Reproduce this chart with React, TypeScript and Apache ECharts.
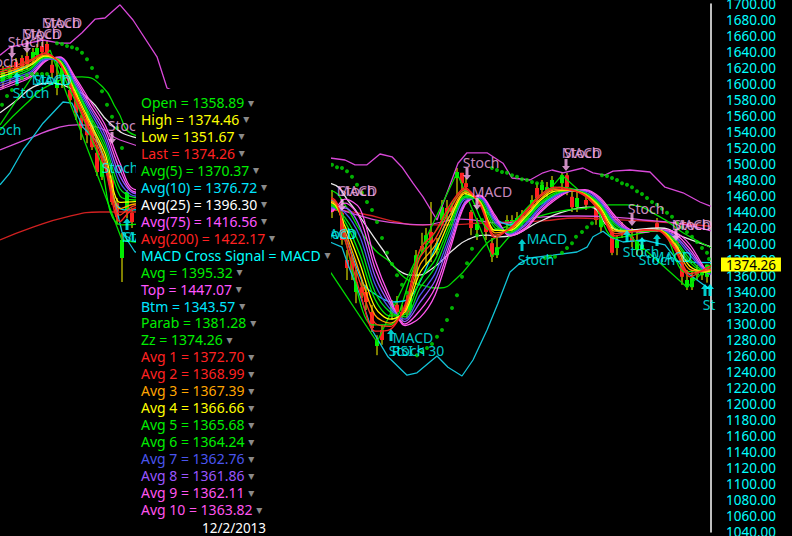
import React, { useEffect, useRef } from "react";
import * as echarts from "echarts";

// ---------- axis ----------
const axisMin = 1040;
const axisMax = 1700;
const lastPrice = 1374.26;
const dateLabel = "12/2/2013";

// ---------- price bars ----------
const barDays = [0.6,2,3.2,4.4,5.4,6.6,7.4,8.4,9.4,10.4,11.4,12.4,14,15.2,16.2,17.4,18.4,19.4,20.4,22.4,23.4,24.4,25.4,26.4,
66.4,68.4,69.4,70.4,71.2,72.4,73.2,74.4,75.4,76.4,78.4,79.4,80.4,81.4,82,83.2,84.4,85.2,86.2,87.4,88.4,89.4,90.4,91.4,92.4,93.2,94.2,95.4,97.2,98.4,99.4,101.4,102.4,103.4,104.4,106.4,107.4,108.4,109.4,110.4,112.4,113.4,114.4,115.4,117.2,119.2,120.2,122.4,123.4,124.4,126.4,127.4,128.4,131.4,134.4,135.4,136.4,137.4,138.4,139.4,140.4,141.4];
const barOpens = [1602.5,1607.5,1627.5,1632.5,1635,1630,1636,1647.5,1650,1624,1595,1609,1592.5,1589,1557.5,1555,1549,1514,1484,1480,1451,1382.5,1442.5,1439,
1455,1439,1380,1377.5,1340,1346,1340,1315,1272.5,1292.5,1315,1324,1315,1327.5,1317.5,1359,1397.5,1402.5,1415,1392.5,1430,1445,1445,1482.5,1489,1476,1440,1417.5,1426,1401,1386,1426,1421,1424,1426,1445,1470,1467.5,1465,1471,1476,1486,1459,1446,1455,1449,1421,1414,1395,1421,1409,1392.5,1392.5,1426,1411,1402.5,1376,1346,1346,1361,1361,1358.89];
const barCloses = [1615,1617.5,1615,1622.5,1625,1640,1645,1640,1639,1614,1605,1620,1580,1564,1545,1536,1521,1490,1502.5,1452.5,1434,1405,1465,1427.5,
1440,1405,1370,1367.5,1352.5,1339,1327.5,1295,1280,1280,1326,1315,1311,1314,1339,1386,1392.5,1411,1401,1401,1446,1440,1440,1490,1476,1471,1420,1426,1415,1384,1396,1430,1430,1432.5,1436,1455,1457.5,1474,1471,1480,1486,1471,1446,1457.5,1449,1430,1439,1389,1405,1414,1402.5,1405,1399,1420,1405,1392.5,1359,1355,1357.5,1367.5,1367.5,1374.26];
const barLows = [1595,1600,1610,1615,1617.5,1624,1630,1632.5,1630,1607.5,1586,1595,1576,1555,1530,1526,1517.5,1485,1480,1449,1424,1352.5,1432.5,1420,
1432.5,1399,1355,1355,1326,1332.5,1317.5,1290,1261,1274,1305,1307.5,1302.5,1307.5,1311,1349,1389,1374,1377.5,1386,1424,1430,1436,1461,1467.5,1461,1411,1405,1405,1377.5,1382.5,1417.5,1415,1417.5,1420,1440,1449,1461,1459,1465,1467.5,1461,1440,1440,1442.5,1424,1415,1386,1386,1407.5,1396,1386,1386,1415,1399,1386,1349,1342.5,1342.5,1355,1355,1351.67];
const barHighs = [1622.5,1624,1632.5,1636,1640,1645,1650,1652.5,1655,1632.5,1627.5,1627.5,1599,1595,1561,1567.5,1555,1524,1511,1486,1457.5,1414,1467.5,1445,
1467.5,1445,1392.5,1386,1367.5,1355,1349,1324,1286,1299,1330,1335,1324,1336,1342.5,1392.5,1414,1420,1452.5,1407.5,1455,1455,1451,1495,1489,1482.5,1442.5,1432.5,1430,1407.5,1409,1436,1436,1440,1442.5,1461,1476,1480,1477.5,1485,1489,1489,1467.5,1467.5,1461,1455,1449,1424,1411,1427.5,1420,1415,1407.5,1432.5,1417.5,1410,1386,1367.5,1367.5,1374,1374,1374.46];

// ---------- ribbon (Avg 1 .. Avg 10) ----------
const ribbonDays = [0,3,6,9,12,15,18,21,24,27,66,69,72,75,78,81,84,87,90,93,96,99,102,105,108,111,114,117,120,123,126,129,132,135,138,141,142.2];
const avg1 = [1618,1623,1630,1639,1625,1583,1539,1495,1428,1445,1458,1405,1340,1291,1293,1324,1393,1415,1449,1470,1449,1408,1420,1440,1461,1471,1468,1460,1440,1410,1415,1418,1416,1393,1359,1369,1372.7];
const avg2 = [1615,1620,1628,1638,1626,1585,1543,1501,1436,1448,1456,1411,1352,1301,1297,1321,1383,1406,1443,1468,1450,1411,1419,1438,1459,1469,1468,1461,1442,1413,1415,1417,1416,1395,1363,1367,1368.99];
const avg3 = [1612,1618,1625,1636,1627,1588,1548,1507,1444,1450,1454,1416,1363,1311,1301,1318,1374,1398,1436,1465,1452,1414,1418,1435,1456,1468,1467,1462,1444,1416,1416,1417,1417,1398,1368,1366,1367.39];
const avg4 = [1609,1615,1623,1635,1628,1591,1552,1513,1452,1453,1452,1422,1375,1321,1306,1315,1364,1389,1430,1463,1453,1417,1417,1433,1454,1466,1467,1462,1446,1418,1416,1417,1417,1400,1372,1365,1366.66];
const avg5 = [1606,1613,1620,1634,1629,1594,1557,1519,1460,1455,1450,1428,1386,1331,1310,1312,1355,1380,1424,1460,1454,1420,1416,1430,1451,1464,1467,1463,1448,1421,1416,1416,1417,1403,1377,1365,1365.68];
const avg6 = [1604,1610,1618,1633,1630,1597,1561,1525,1469,1458,1448,1433,1398,1340,1315,1309,1345,1371,1418,1458,1456,1424,1414,1428,1449,1462,1467,1464,1450,1424,1416,1416,1417,1405,1381,1365,1364.24];
const avg7 = [1601,1608,1615,1631,1631,1600,1566,1531,1477,1460,1446,1439,1409,1350,1319,1306,1336,1363,1411,1456,1457,1427,1413,1425,1446,1460,1467,1465,1452,1427,1416,1416,1417,1408,1386,1366,1362.76];
const avg8 = [1598,1605,1613,1630,1632,1603,1570,1537,1485,1463,1444,1445,1421,1360,1324,1303,1327,1354,1405,1453,1458,1430,1412,1423,1444,1459,1466,1466,1454,1429,1417,1416,1417,1410,1390,1366,1361.86];
const avg9 = [1595,1603,1610,1629,1633,1606,1574,1543,1493,1465,1442,1451,1432,1370,1328,1300,1317,1345,1399,1451,1460,1433,1411,1420,1441,1457,1466,1467,1456,1432,1417,1415,1417,1413,1394,1367,1362.11];
const avg10 = [1593,1600,1608,1628,1634,1609,1579,1549,1501,1468,1440,1456,1444,1380,1333,1298,1308,1336,1393,1449,1461,1436,1410,1418,1439,1455,1466,1468,1458,1435,1418,1415,1418,1415,1399,1369,1363.82];
const ribbons = [avg1,avg2,avg3,avg4,avg5,avg6,avg7,avg8,avg9,avg10];
const ribbonColors = ["#ff2020","#ff3a20","#ffa500","#ffff00","#00ee00","#00dd22","#4a55ee","#9955ff","#ff55ee","#ff55ee"];

// ---------- bands and averages ----------
const topDays = [0,2,8.6,12,14,16.4,19,21,24,26.6,31.4,33.4,66,69,71,73.4,76,78.4,80.4,82.6,84.6,87.4,91.6,93.4,97.4,100.6,102.4,106,108.6,110.4,112.6,116.6,118.6,121,122.6,126,130,133,136.6,140,142.2];
const topValues = [1636,1646,1655,1651,1651,1664,1681,1682.5,1699,1680,1634,1595,1507.5,1505,1499,1499,1512.5,1509,1496,1476,1459,1430,1501,1514,1514,1501,1482.5,1480,1489,1492.5,1489,1495,1489,1486,1491,1492.5,1490,1471,1464,1452.5,1447.07];
const btmDays = [0,2,4.6,6.6,8.6,12.6,14.4,16.6,20,22.4,24.4,27,66,68.4,69.6,72,74.4,77.6,81.4,83.4,87.4,89.6,92.4,94.6,97.4,99.6,102,104,106,110.6,115.4,117.4,118.6,120.6,122,124.6,128.6,133,137.4,141.4,142.2];
const btmValues = [1474,1489,1517.5,1534,1551,1577.5,1576,1546,1524,1467.5,1415,1390,1402.5,1396,1374,1336,1292.5,1259,1236,1239,1260,1246,1235,1255,1292.5,1326,1365,1376,1382.5,1386,1390,1396,1409,1416,1409,1402.5,1405,1399,1364,1346,1343.57];
const avg25Days = [0,3.4,6.6,10,14,18,22,26.6,66,70,73.4,76.6,79.6,83.4,86.6,90.6,93.4,97.4,100,108.6,112,118,122,125.4,132,136.6,142.2];
const avg25Values = [1564,1580,1596,1601,1595,1580,1551,1534,1476,1451,1421,1392.5,1367.5,1361,1370,1392.5,1405,1411,1409,1430,1439,1446,1421,1417.5,1420,1409,1396.3];
const midDays = [0,5,10,16.4,20.6,23.4,27,66,69,72,75,78,81,84,88,91.4,94.6,97.4,99.4,102,108.6,113.4,117.4,122,125.4,132,136.6,142.2];
const midValues = [1542.5,1574,1599,1609,1596,1567.5,1536,1467.5,1449,1417.5,1392.5,1377.5,1357.5,1349,1345,1357.5,1380,1401,1409,1421,1436,1442.5,1445,1449,1449,1434,1414,1395.32];
const zzDays = [0,10,24.4,66.2,75.4,91.4,98.4,112.4,137.4,142.2];
const zzValues = [1549,1642.5,1405,1364,1277.5,1489,1384,1486,1346,1374.26];
const avg200Days = [0,6.6,13.4,20,23.4,66,72.6,79.4,83.4,89.4,96,102,108.6,115.4,121.4,132,142.2];
const avg200Values = [1405,1421,1434,1440,1440,1442.5,1437.5,1427.5,1424,1424,1426,1427.5,1429,1432.5,1431,1427.5,1422.17];
const avg75Days = [0,6.6,11.4,15.4,20,24,70,79.4,84.6,92,100.6,108.6,115.4,122,128.6,135.4,142.2];
const avg75Values = [1517.5,1534,1545,1549,1545,1530,1439,1426,1424,1431,1426,1434,1435,1434,1430,1426,1416.56];
const fastDays = [0,6,9.6,14,20,24.4,66.2,69,74.4,78,83,88,93,98,102,108,112,118,123,132,137,142.2];
const fastValues = [1615,1630,1636,1592.5,1505,1424,1455,1405,1299,1299,1374,1424,1467.5,1417.5,1424,1461,1471,1459,1407.5,1417.5,1365,1370.37];
const avg10LineDays = [0,6,10,15,20.4,25,66.2,69,72.6,74.6,78.4,82,86,90,94,98,102,108,114,120,124,132,138,142.2];
const avg10LineValues = [1607.5,1624,1632.5,1599,1514,1442.5,1455,1411,1351,1339,1327.5,1332.5,1380,1436,1461,1436,1424,1449,1467.5,1449,1415,1417.5,1377.5,1376.72];

// ---------- parabolic stop ----------
const parabDays = [0.4,1.4,2.4,3.4,4.4,5.4,6.4,7.4,8.4,9.4,11.4,12.4,13.4,14.4,15.4,16.4,17.4,18.4,19.4,20.4,21.4,22.4,23.4,24.4,
66.4,67.4,68.4,69.4,70.4,71.4,72.4,73.4,74.4,75.4,76.4,77.4,78.4,79.4,80.4,81.4,
83.4,84.4,85.4,86.4,87.4,88.4,89.4,90.4,91.4,92.4,93.4,94.4,95.4,96.4,
98.4,99.4,100.4,101.4,102.4,103.4,104.4,105.4,106.4,107.4,108.4,
109,110,111,112.4,113.4,114.4,115.2,116.4,117.4,118.4,
120.4,121.4,122.4,123.4,124.4,125.4,126.4,127.4,128.4,129.4,130.4,131.4,132.4,133.4,134.4,135.4,136.4,137.4,138.4,139.4,140.4,141.4,141.8];
const parabValues = [1574,1585,1592.5,1600,1607.5,1611,1612.5,1612.5,1612.5,1612.5,1651,1650,1647.5,1646,1644,1639,1631,1620,1609,1591,1574,1559,1545,1520,
1499,1496,1495,1491,1484,1474,1464,1452.5,1442.5,1427.5,1407.5,1389,1375,1361,1349,1339,
1261,1265,1270,1275,1284,1292.5,1305,1320,1336,1359,1376,1394,1411,1430,
1495,1492.5,1490,1489,1486,1484,1481,1480,1477.5,1476,1476,
1382.5,1384,1384,1389,1395,1401,1409,1415,1421,1426,
1486,1485,1482.5,1480,1476,1474,1471,1466,1462.5,1457.5,1452.5,1449,1444,1439,1434,1426,1421,1415,1409,1402.5,1395,1389,1381.28];

// ---------- signals ----------
const sellDays = [2.4,5.4,22.4,68.4,93.4,95.4,113.2,126.4,135.2];
const sellPrices = [1640,1646.25,1532.5,1448.75,1487.5,1450,1498.75,1430,1411.25];
const buyDays = [3.4,25.4,78.2,104.4,125.4,128.4,131.4,141,142];
const buyPrices = [1607.5,1425,1286.25,1398.75,1410,1401.25,1405,1342.5,1342.5];
const sellTexts = ["MACD","Stoch","MACD","Stoch","Stoch","Stoch","Stoch","MACD","Stoch","Stoch","MACD","MACD","Stoch","Stoch","MACD","Stoch"];
const sellTextDays = [12.4,12.4,8.4,8.4,5.2,0,25.2,71.4,71.4,96.2,98.4,116.4,116.4,129.2,138.4,138.4];
const sellTextPrices = [1677.5,1677.5,1663.75,1663.75,1653.75,1628.75,1548.75,1467.5,1467.5,1502.5,1466.25,1515,1515,1445,1425,1425];
const buyTexts = ["Stoch","Stoch","MACD","Stoch","Stoch","MACD","Stoch","MACD","Stoch","MACD","Stoch","RSI < 30","Stoch","MACD","Stoch","Stoch","MACD","St"];
const buyTextDays = [6.2,0.6,10.4,10.4,24,28.4,28.4,67.4,67.4,82.6,81.4,83.6,107.2,109.4,128.2,131.4,134.4,141.8];
const buyTextPrices = [1590,1543.75,1606.25,1606.25,1496.25,1410,1410,1413.75,1413.75,1283.75,1267.5,1267.5,1381.25,1407.5,1391.25,1381.25,1385,1325];

// ---------- read-out panel ----------
const readoutLabels = ["Open = 1358.89","High = 1374.46","Low = 1351.67","Last = 1374.26","Avg(5) = 1370.37","Avg(10) = 1376.72","Avg(25) = 1396.30","Avg(75) = 1416.56","Avg(200) = 1422.17","MACD Cross Signal = MACD","Avg = 1395.32","Top = 1447.07","Btm = 1343.57","Parab = 1381.28","Zz = 1374.26","Avg 1 = 1372.70","Avg 2 = 1368.99","Avg 3 = 1367.39","Avg 4 = 1366.66","Avg 5 = 1365.68","Avg 6 = 1364.24","Avg 7 = 1362.76","Avg 8 = 1361.86","Avg 9 = 1362.11","Avg 10 = 1363.82"];
const readoutColors = ["#00ee00","#ffff00","#ffff00","#ff2222","#00ee00","#00e5ff","#ffffff","#ff55ff","#ff2222","#00ffff","#00ee00","#ff55ff","#00e5ff","#00ee00","#00ee00","#ff2222","#ff2222","#ffa500","#ffff00","#00ee00","#00ee00","#4a55ee","#9955ff","#ff55ee","#ff55ee"];

const FONT = "'Noto Sans', sans-serif";
const PINK = "#ffb0f0";
const CYAN = "#00ffff";
const ARROW = "path://M4 0 L8 5 L5.5 5 L5.5 12 L2.5 12 L2.5 5 L0 5 Z";

const zip = (xs: number[], ys: number[]) => xs.map((x, i) => [x, ys[i]]);

function lineSeries(name: string, xs: number[], ys: number[], color: string, smooth: boolean | number = false, z = 3, width = 1.3) {
  return {
    name,
    type: "line",
    data: zip(xs, ys),
    showSymbol: false,
    smooth,
    z,
    lineStyle: { color, width },
    silent: true,
  };
}

function textSeries(texts: string[], xs: number[], ys: number[], color: string) {
  return {
    type: "scatter",
    symbolSize: 1,
    itemStyle: { color: "transparent" },
    z: 9,
    silent: true,
    data: texts.map((t, i) => ({
      value: [xs[i], ys[i]],
      label: {
        show: true,
        position: "inside",
        formatter: t,
        color,
        fontFamily: FONT,
        fontSize: 14,
      },
    })),
  };
}

function arrowSeries(xs: number[], ys: number[], color: string, rotate: number) {
  return {
    type: "scatter",
    symbol: ARROW,
    symbolSize: [8, 12],
    symbolRotate: rotate,
    itemStyle: { color },
    z: 9,
    silent: true,
    data: zip(xs, ys),
  };
}

export default function App() {
  const ref = useRef<HTMLDivElement>(null);

  useEffect(() => {
    document.body.style.margin = "0";
    document.body.style.background = "#000";
    const chart = echarts.init(ref.current!, undefined, { renderer: "svg" });

    const bars = barDays.map((d, i) => [d, barOpens[i], barCloses[i], barLows[i], barHighs[i]]);

    chart.setOption({
      animation: false,
      backgroundColor: "#000",
      grid: { left: 0, right: 81, top: 4, bottom: 4, containLabel: false, outerBoundsMode: "none" },
      xAxis: {
        type: "value",
        min: 0,
        max: 142.2,
        show: false,
      },
      yAxis: [
        {
          type: "value",
          position: "right",
          min: axisMin,
          max: axisMax,
          interval: 20,
          axisLine: { show: true, onZero: false, lineStyle: { color: "#ffffff", width: 1.5 } },
          axisTick: { show: false },
          splitLine: { show: false },
          axisLabel: {
            color: "#00ffff",
            margin: 15,
            fontFamily: FONT,
            fontSize: 13.5,
            showMinLabel: true,
            showMaxLabel: true,
            hideOverlap: false,
            formatter: (v: number) => v.toFixed(2),
          },
        },
        {
          type: "value",
          position: "right",
          min: axisMin,
          max: axisMax,
          axisLine: { show: false },
          axisTick: { show: false },
          splitLine: { show: false },
          z: 20,
          axisLabel: {
            customValues: [lastPrice],
            color: "#000000",
            backgroundColor: "#ffff00",
            padding: [0, 5, 0, 5],
            lineHeight: 14,
            margin: 10,
            fontFamily: FONT,
            fontSize: 13.5,
            formatter: (v: number) => v.toFixed(2),
          },
        },
      ],
      series: [
        {
          type: "custom",
          z: 2,
          silent: true,
          encode: { x: 0, y: [1, 2, 3, 4] },
          data: bars,
          renderItem: (_p: any, api: any) => {
            const d = api.value(0);
            const open = api.value(1);
            const close = api.value(2);
            const lo = api.coord([d, api.value(3)]);
            const hi = api.coord([d, api.value(4)]);
            const a = api.coord([d, Math.max(open, close)]);
            const b = api.coord([d, Math.min(open, close)]);
            return {
              type: "group",
              children: [
                {
                  type: "line",
                  shape: { x1: lo[0], y1: lo[1], x2: hi[0], y2: hi[1] },
                  style: { stroke: "#ffff00", lineWidth: 1 },
                },
                {
                  type: "rect",
                  shape: { x: a[0] - 2, y: a[1], width: 4, height: Math.max(1, b[1] - a[1]) },
                  style: { fill: close >= open ? "#00ee00" : "#ff2020" },
                },
              ],
            };
          },
        },
        lineSeries("Avg(200)", avg200Days, avg200Values, "#d02020", true),
        lineSeries("Avg(75)", avg75Days, avg75Values, "#d850d8", true),
        lineSeries("Avg(25)", avg25Days, avg25Values, "#e8e8e8", true),
        lineSeries("Avg", midDays, midValues, "#00dd00", true),
        lineSeries("Top", topDays, topValues, "#d848d8", false),
        lineSeries("Btm", btmDays, btmValues, "#12c4d8", false),
        lineSeries("Zz", zzDays, zzValues, "#00dd00", false),
        lineSeries("Avg(5)", fastDays, fastValues, "#00ee00", 0.3),
        lineSeries("Avg(10)", avg10LineDays, avg10LineValues, "#00d5ee", 0.3),
        ...ribbons.map((r, i) =>
          lineSeries("Avg " + (i + 1), ribbonDays, r, ribbonColors[i], 0.3, 4 + (ribbons.length - i) / 100)
        ),
        {
          name: "Parab",
          type: "scatter",
          symbol: "circle",
          symbolSize: 4,
          itemStyle: { color: "#00dd00" },
          z: 5,
          silent: true,
          data: zip(parabDays, parabValues),
        },
        arrowSeries(sellDays, sellPrices, PINK, 180),
        arrowSeries(buyDays, buyPrices, CYAN, 0),
        textSeries(sellTexts, sellTextDays, sellTextPrices, PINK),
        textSeries(buyTexts, buyTextDays, buyTextPrices, CYAN),
      ],
      graphic: [
        {
          type: "rect",
          z: 100,
          silent: true,
          shape: { x: 136, y: 89, width: 195, height: 447 },
          style: { fill: "#000000" },
        },
        ...readoutLabels.map((t, i) => ({
          type: "text",
          z: 101,
          silent: true,
          x: 141,
          y: 102.5 + i * 16.96,
          style: {
            text: `{t|${t}}{g| ▾}`,
            verticalAlign: "middle",
            rich: {
              t: { fill: readoutColors[i], fontFamily: FONT, fontSize: 14 },
              g: { fill: "#8a8a8a", fontFamily: "'DejaVu Sans'", fontSize: 12 },
            },
          },
        })),
        {
          type: "text",
          z: 101,
          silent: true,
          x: 234,
          y: 528,
          style: {
            text: dateLabel,
            fill: "#ffffff",
            fontFamily: FONT,
            fontSize: 13.5,
            align: "center",
            verticalAlign: "middle",
          },
        },
      ],
    });

    return () => chart.dispose();
  }, []);

  return <div ref={ref} style={{ position: "fixed", left: 0, top: 0, width: 792, height: 536 }} />;
}
